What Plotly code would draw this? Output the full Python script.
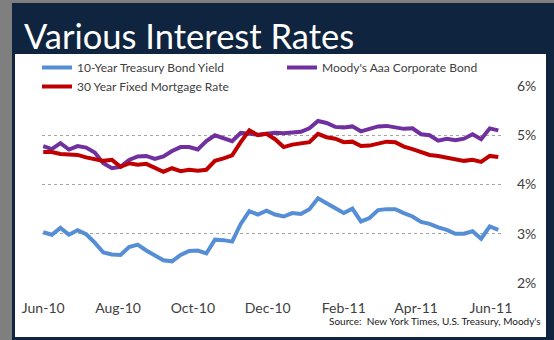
import pandas as pd
import plotly.graph_objects as go

# Weekly observations, Jun 2010 - Jun 2011
dates = pd.date_range("2010-06-01", periods=54, freq="7D")

treasury_10y = [
    3.03, 2.98, 3.12, 2.98, 3.07, 2.99, 2.82, 2.62, 2.58, 2.57,
    2.73, 2.78, 2.66, 2.55, 2.46, 2.44, 2.57, 2.65, 2.66, 2.60,
    2.88, 2.87, 2.84, 3.20, 3.46, 3.39, 3.47, 3.39, 3.35, 3.42,
    3.40, 3.50, 3.72, 3.62, 3.53, 3.42, 3.51, 3.25, 3.32, 3.48,
    3.50, 3.50, 3.42, 3.35, 3.24, 3.20, 3.13, 3.08, 3.00, 3.00,
    3.05, 2.90, 3.15, 3.08,
]

moodys_aaa = [
    4.78, 4.72, 4.84, 4.71, 4.78, 4.75, 4.65, 4.43, 4.33, 4.36,
    4.50, 4.57, 4.58, 4.52, 4.57, 4.68, 4.76, 4.76, 4.71, 4.88,
    5.00, 4.95, 4.88, 5.05, 5.02, 5.01, 5.03, 5.05, 5.04, 5.06,
    5.07, 5.14, 5.29, 5.25, 5.17, 5.16, 5.18, 5.08, 5.13, 5.18,
    5.19, 5.17, 5.13, 5.14, 5.02, 5.00, 4.89, 4.93, 4.90, 4.93,
    5.02, 4.92, 5.14, 5.10,
]

mortgage_30y = [
    4.66, 4.66, 4.62, 4.60, 4.60, 4.55, 4.51, 4.48, 4.50, 4.36,
    4.43, 4.40, 4.42, 4.34, 4.26, 4.33, 4.27, 4.30, 4.28, 4.30,
    4.48, 4.53, 4.59, 4.86, 5.10, 5.00, 5.03, 4.92, 4.76, 4.81,
    4.84, 4.86, 5.03, 4.96, 4.93, 4.86, 4.87, 4.78, 4.79, 4.84,
    4.87, 4.86, 4.77, 4.72, 4.65, 4.60, 4.58, 4.55, 4.52, 4.48,
    4.50, 4.46, 4.58, 4.56,
]

series = [
    ("10-Year Treasury Bond Yield", treasury_10y, "#558ED5"),
    ("Moody's Aaa Corporate Bond", moodys_aaa, "#7030A0"),
    ("30 Year Fixed Mortgage Rate", mortgage_30y, "#C00000"),
]

FONT = "Lato"
NAVY = "#0F243E"
GREY_TEXT = "#404040"

fig = go.Figure()
for name, values, color in series:
    fig.add_trace(go.Scatter(
        x=dates, y=values, name=name, mode="lines",
        line=dict(color=color, width=4),
    ))

# plot area spans x 42..502 px, y 86..283 px of the 554x340 page
L, R, T, B = 42, 52, 86, 57
W, H = 554, 340
pw, ph = W - L - R, H - T - B


def px_x(p):
    return (p - L) / pw


def px_y(p):
    return (H - B - p) / ph


fig.add_shape(type="rect", xref="paper", yref="paper", layer="below",
              x0=px_x(12), x1=px_x(600), y0=px_y(400), y1=px_y(3),
              fillcolor=NAVY, line_width=0)
fig.add_shape(type="rect", xref="paper", yref="paper", layer="below",
              x0=px_x(15), x1=px_x(546), y0=px_y(337), y1=px_y(54),
              fillcolor="white", line_width=0)
# mask the top gridline under the legend band
fig.add_shape(type="rect", xref="paper", yref="paper", layer="between",
              x0=0, x1=1, y0=0.97, y1=1.01,
              fillcolor="white", line_width=0)

fig.add_annotation(
    text="Various Interest Rates", xref="paper", yref="paper",
    x=px_x(22), y=px_y(35), xanchor="left", yanchor="middle",
    showarrow=False, font=dict(family=FONT, size=34.5, color="white"),
)
fig.add_annotation(
    text="Source:  New York Times, U.S. Treasury, Moody's",
    xref="paper", yref="paper", x=px_x(543), y=px_y(321),
    xanchor="right", yanchor="middle", showarrow=False,
    font=dict(family=FONT, size=10, color="#1a1a1a"),
)

fig.update_layout(
    width=W, height=H,
    margin=dict(l=L, r=R, t=T, b=B, autoexpand=False),
    paper_bgcolor="#7F7F7F",
    plot_bgcolor="rgba(0,0,0,0)",
    font=dict(family=FONT, color=GREY_TEXT),
    showlegend=True,
    legend=dict(
        orientation="h", x=px_x(37), y=px_y(53), xanchor="left", yanchor="top",
        entrywidth=200, entrywidthmode="pixels",
        bgcolor="rgba(0,0,0,0)", font=dict(family=FONT, size=12, color=GREY_TEXT),
        itemwidth=30, traceorder="normal",
    ),
    xaxis=dict(
        type="date", range=["2010-05-31", "2011-06-10"],
        tick0="2010-06-01", dtick="M2", tickformat="%b-%y",
        showgrid=False, zeroline=False, showline=False, ticks="",
        tickfont=dict(family=FONT, size=14, color=GREY_TEXT),
        ticklabelstandoff=15,
    ),
    yaxis=dict(
        range=[2, 6], dtick=1, side="right",
        tickvals=[2, 3, 4, 5, 6], ticktext=["2%", "3%", "4%", "5%", "6%"],
        showgrid=True, gridcolor="#A6A6A6", griddash="dot", gridwidth=1,
        zeroline=False, showline=False, ticks="",
        tickfont=dict(family=FONT, size=14, color=GREY_TEXT),
        ticklabelstandoff=14,
    ),
)

fig.write_html("out.html")
